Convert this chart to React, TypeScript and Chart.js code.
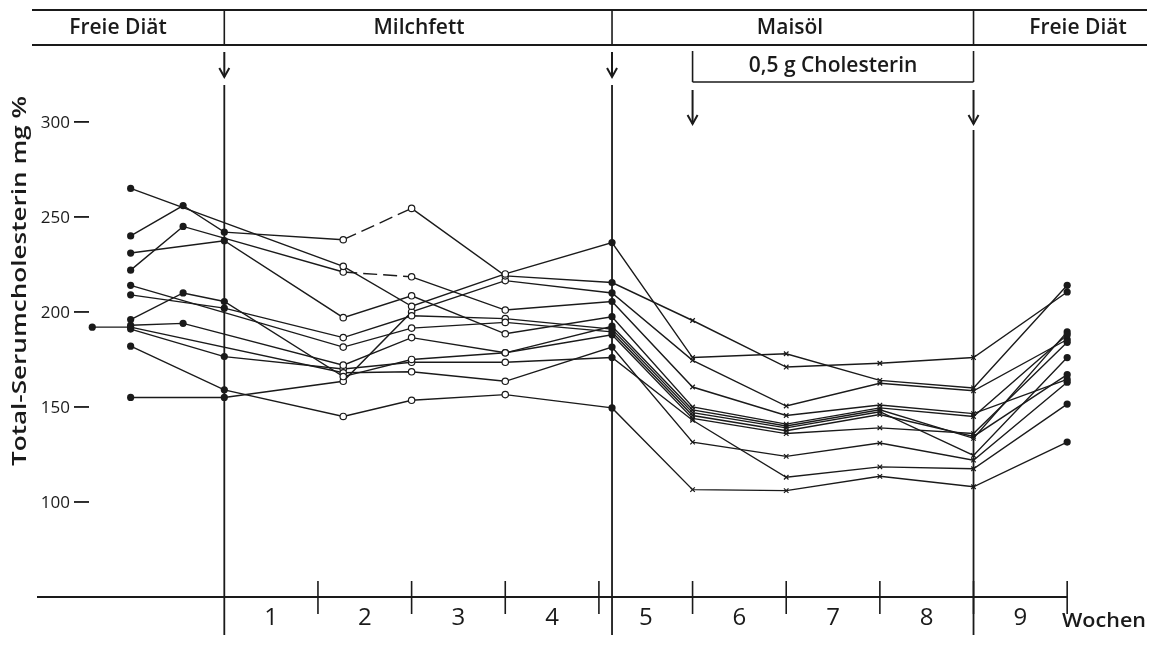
import React, { useEffect, useRef } from "react";
import { Chart, registerables } from "chart.js";

Chart.register(...registerables);

// x positions (weeks) of the measurement columns
const weeks = [-1.41, -1, -0.44, 0, 1.27, 2, 3, 4.14, 5, 6, 7, 8, 9];

// Total serum cholesterol (mg %) per subject, null = no measurement
const s1 = [null, 265, null, null, 224, 203, 220, 236.5, 176, 178, 164, 160, 214];
const s2 = [null, 240, 256, 242, 238, 254.5, 219, 215.5, 195.5, 171, 173, 176, 210.5];
const s3 = [null, 222, 245, null, 221, 218.5, 201, 205.5, 160.5, 145.5, 151, 146.5, 164.5];
const s4 = [null, 231, null, 237.5, 197, 208.5, 188.5, 197.5, 150, 141, 149.5, 145, 188];
const s5 = [null, 214, null, null, 181.5, 191.5, 194.5, 189.5, 145.5, 137.5, 146, 134.5, 167];
const s6 = [null, 209, null, 202, 186.5, 198, 196.5, 191, 147, 139, 147.5, 124.5, 176];
const s7 = [null, 196, 210, 205.5, 166, 175, 178.5, 188, 144, 136, 139, 136, 184];
const s8 = [null, 193, 194, null, 172, 186.5, 178.5, 192.5, 148.5, 140, 148.5, 133.5, 189.5];
const s9 = [192, 192, null, null, 168, 168.5, 163.5, 181.5, 131.5, 124, 131, 122, 163];
const s10 = [null, 191, null, 176.5, 170, 173.5, 173.5, 176, 143, 113, 118.5, 117.5, 151.5];
const s11 = [null, 182, null, 159, 145, 153.5, 156.5, 149.5, 106.5, 106, 113.5, 108, 131.5];
const s12 = [null, 155, null, 155, 163.5, 200, 216.5, 210, 174.5, 150.5, 162.5, 158.5, 185.5];

const subjects = [s1, s2, s3, s4, s5, s6, s7, s8, s9, s10, s11, s12];
const dashedSubjects = [1, 2]; // segment week 1.27 -> 2 drawn dashed

const yTicks = [100, 150, 200, 250, 300];
const weekLabels = ["1", "2", "3", "4", "5", "6", "7", "8", "9"];
const weekTicks = [1, 2, 3, 4, 5, 6, 7, 8, 9];

const phases = [
  { label: "Freie Diät", x: 118 },
  { label: "Milchfett", x: 419 },
  { label: "Maisöl", x: 790 },
  { label: "Freie Diät", x: 1078 },
];

const INK = "#1a1a1a";
const HEAD_FONT = '600 21px "Open Sans", "DejaVu Sans", sans-serif';

function fitText(ctx: CanvasRenderingContext2D, text: string, cx: number, cy: number, width: number) {
  const m = ctx.measureText(text).width;
  ctx.save();
  ctx.translate(cx, cy);
  ctx.scale(width / m, 1);
  ctx.textAlign = "center";
  ctx.textBaseline = "middle";
  ctx.fillText(text, 0, 0);
  ctx.restore();
}

function text(ctx: CanvasRenderingContext2D, t: string, cx: number, cy: number) {
  ctx.textAlign = "center";
  ctx.textBaseline = "middle";
  ctx.fillText(t, cx, cy);
}

function line(ctx: CanvasRenderingContext2D, x1: number, y1: number, x2: number, y2: number, w = 1.6) {
  ctx.beginPath();
  ctx.lineWidth = w;
  ctx.moveTo(x1, y1);
  ctx.lineTo(x2, y2);
  ctx.stroke();
}

function arrow(ctx: CanvasRenderingContext2D, x: number, y1: number, y2: number) {
  line(ctx, x, y1, x, y2, 2);
  ctx.beginPath();
  ctx.lineWidth = 2;
  ctx.moveTo(x - 5, y2 - 9);
  ctx.lineTo(x, y2);
  ctx.lineTo(x + 5, y2 - 9);
  ctx.stroke();
}

const framePlugin = {
  id: "frame",
  beforeDatasetsDraw(chart: any) {
    const ctx: CanvasRenderingContext2D = chart.ctx;
    const xs = chart.scales.x;
    const ys = chart.scales.y;
    ctx.save();
    ctx.strokeStyle = INK;
    ctx.fillStyle = INK;

    // header band
    line(ctx, 32, 10, 1147, 10, 2);
    line(ctx, 32, 45, 1147, 45, 2);
    const bx0 = xs.getPixelForValue(0);
    const bx1 = xs.getPixelForValue(4.14);
    const bx2 = xs.getPixelForValue(8);
    [bx0, bx1, bx2].forEach((x) => line(ctx, x, 10, x, 45, 1.6));
    ctx.font = HEAD_FONT;
    phases.forEach((p) => text(ctx, p.label, p.x, 28));

    // cholesterol period box
    const c0 = xs.getPixelForValue(5);
    const c1 = xs.getPixelForValue(8);
    line(ctx, c0, 51, c0, 82, 1.6);
    line(ctx, c0, 82, c1, 82, 1.6);
    line(ctx, c1, 51, c1, 82, 1.6);
    text(ctx, "0,5 g Cholesterin", (c0 + c1) / 2, 66);

    // arrows and period lines
    arrow(ctx, bx0, 52, 77);
    arrow(ctx, bx1, 52, 77);
    arrow(ctx, c0, 90, 124);
    arrow(ctx, c1, 90, 124);
    line(ctx, bx0, 85, bx0, 635, 1.8);
    line(ctx, bx1, 85, bx1, 635, 1.8);
    line(ctx, bx2, 130, bx2, 635, 1.8);

    // x axis
    const y0 = ys.getPixelForValue(50);
    line(ctx, 37, y0, xs.getPixelForValue(9), y0, 2);
    weekTicks.forEach((w) => {
      const x = xs.getPixelForValue(w);
      line(ctx, x, y0 - 16, x, y0 + 17, 1.6);
    });
    ctx.font = '24px "Open Sans", "DejaVu Sans", sans-serif';
    weekLabels.forEach((l, i) => text(ctx, l, xs.getPixelForValue(i + 0.5), 618));
    ctx.font = '600 19px "Open Sans", "DejaVu Sans", sans-serif';
    fitText(ctx, "Wochen", 1104, 622, 84);

    // y ticks
    ctx.font = '17px "Open Sans", "DejaVu Sans", sans-serif';
    ctx.textAlign = "right";
    ctx.textBaseline = "middle";
    yTicks.forEach((v) => {
      const y = ys.getPixelForValue(v);
      ctx.fillText(String(v), 70, y + 1);
      line(ctx, 74, y, 89, y, 1.8);
    });

    // y title
    ctx.save();
    ctx.translate(20, 281);
    ctx.rotate(-Math.PI / 2);
    ctx.font = '600 20px "Open Sans", "DejaVu Sans", sans-serif';
    fitText(ctx, "Total-Serumcholesterin mg %", 0, 0, 370);
    ctx.restore();

    ctx.restore();
  },
};

function isFilled(x: number) {
  return x <= 0 || x === 4.14 || x === 9;
}
function isCross(x: number) {
  return x >= 5 && x <= 8;
}

export default function App() {
  const ref = useRef<HTMLCanvasElement>(null);
  useEffect(() => {
    document.body.style.margin = "0";
    const canvas = ref.current!;
    const datasets = subjects.map((arr, si) => {
      const data = weeks
        .map((w, i) => (arr[i] == null ? null : { x: w, y: arr[i] as number }))
        .filter(Boolean) as { x: number; y: number }[];
      const dashed = dashedSubjects.includes(si);
      return {
        data,
        borderColor: INK,
        borderWidth: 1.4,
        tension: 0,
        fill: false,
        pointStyle: (c: any) => (c.raw && isCross(c.raw.x) ? "crossRot" : "circle"),
        pointRadius: (c: any) => {
          if (!c.raw) return 3;
          if (isFilled(c.raw.x)) return 3.6;
          return 3.2;
        },
        pointBackgroundColor: (c: any) => (c.raw && isFilled(c.raw.x) ? INK : "#ffffff"),
        pointBorderColor: INK,
        pointBorderWidth: (c: any) => (c.raw && isFilled(c.raw.x) ? 0 : 1.2),
        segment: {
          borderDash: (c: any) =>
            dashed && c.p0.parsed.x === 1.27 && c.p1.parsed.x === 2 ? [14, 6] : undefined,
        },
      };
    });
    const chart = new Chart(canvas, {
      type: "line",
      data: { datasets },
      options: {
        animation: false,
        responsive: false,
        devicePixelRatio: 1,
        layout: { padding: { left: 37, right: 39, top: 44, bottom: 66 } },
        scales: {
          x: { type: "linear", min: -2, max: 9.5, display: false },
          y: { type: "linear", min: 50, max: 341, display: false },
        },
        plugins: { legend: { display: false }, tooltip: { enabled: false } },
      },
      plugins: [framePlugin],
    } as any);
    return () => chart.destroy();
  }, []);
  return (
    <div style={{ width: 1153, height: 663, background: "#fff" }}>
      <canvas ref={ref} width={1153} height={663} style={{ display: "block" }} />
    </div>
  );
}
